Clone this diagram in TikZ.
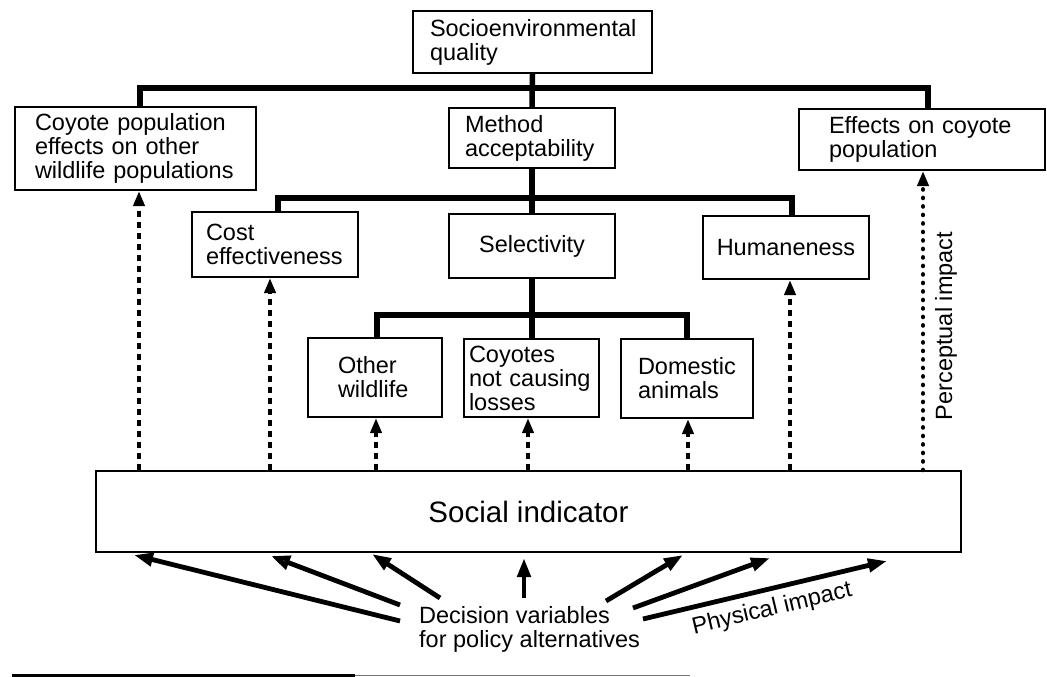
\documentclass[tikz,border=0pt]{standalone}
\usepackage{fontspec}
\setmainfont{Liberation Sans}
\usetikzlibrary{arrows.meta,calc}
\hyphenpenalty=10000
\exhyphenpenalty=10000
\begin{document}
\begin{tikzpicture}[x=1pt,y=-1pt,
  box/.style={draw, line width=2pt, rectangle, inner ysep=0pt, font=\fontsize{23.5}{24}\selectfont},
  lbox/.style={box, align=left},
  bar/.style={line width=5.5pt},
  dasharrow/.style={line width=4.5pt, dash pattern=on 6pt off 5pt, -{Triangle[length=15pt,width=11pt]}},
  dotarrow/.style={line width=4.6pt, line cap=round, dash pattern=on 0.1pt off 8.4pt, -{Triangle[length=15pt,width=11pt]}},
  solidarrow/.style={line width=4.8pt, -{Triangle[length=19pt,width=13pt]}},
  openarrow/.style={line width=4.8pt, -{Triangle[open,length=19pt,width=14pt]}},
  lbl/.style={font=\fontsize{23.5}{24}\selectfont, inner sep=0pt}
]
\useasboundingbox (0,0) rectangle (1047,677);

% boxes
\node[lbox, minimum height=62pt, inner xsep=17pt, text width=205pt] (top) at (532.5,42) {Socioenvironmental\\quality};
\node[lbox, minimum height=83pt, inner xsep=20pt, text width=201pt] (cpe) at (135.5,148.5) {Coyote population\\effects on other\\wildlife populations};
\node[lbox, minimum height=60pt, inner xsep=16pt, text width=134pt] (meth) at (532,138) {Method\\acceptability};
\node[lbox, minimum height=61pt, inner xsep=30pt, text width=186pt] (eff) at (922,139.5) {Effects on coyote\\population};
\node[lbox, minimum height=65pt, inner xsep=14pt, text width=138pt] (cost) at (275,244.5) {Cost\\effectiveness};
\node[box, minimum width=166pt, minimum height=64pt] (sel) at (532,246) {Selectivity};
\node[box, minimum width=166pt, minimum height=63pt] (hum) at (786,247.5) {Humaneness};
\node[lbox, minimum height=79pt, inner xsep=30pt, text width=74pt] (oth) at (375,377.5) {Other\\wildlife};
\node[lbox, minimum height=78pt, inner xsep=5pt, text width=125pt] (cnl) at (531.5,378) {Coyotes\\not causing\\losses};
\node[lbox, minimum height=79pt, inner xsep=17pt, text width=98pt] (dom) at (687,378.5) {Domestic\\animals};
\node[box, minimum width=865pt, minimum height=81pt, font=\fontsize{29.5}{30}\selectfont] (soc) at (528.5,511.5) {Social indicator};
\node[lbl, align=left, anchor=west] (dec) at (419,629) {Decision variables\\for policy alternatives};

% hierarchy bars
\coordinate (b1) at (532,88);
\coordinate (b2) at (532,198);
\coordinate (b3) at (532,315);
\draw[bar] (top.south) -- (meth.north);
\draw[bar] ([xshift=4.5pt]cpe.north) |- (b1) -| ([xshift=6pt]eff.north);
\draw[bar] (meth.south) -- (sel.north);
\draw[bar] ([xshift=3pt]cost.north) |- (b2) -| ([xshift=6pt]hum.north);
\draw[bar] (sel.south) -- (sel.south |- cnl.north);
\draw[bar] ([xshift=2pt]oth.north) |- (b3) -| (dom.north);

% dashed arrows from social indicator
\coordinate (a1) at ([xshift=3.5pt]cpe.south);
\coordinate (a2) at ([xshift=-5pt]cost.south);
\coordinate (a3) at ([xshift=1pt]oth.south);
\coordinate (a4) at ([xshift=-3.5pt]cnl.south);
\coordinate (a5) at ([xshift=1pt]dom.south);
\coordinate (a6) at ([xshift=4pt]hum.south);
\coordinate (a7) at ([xshift=1pt]eff.south);
\draw[dasharrow] (soc.north -| a1) -- (a1);
\draw[dasharrow] (soc.north -| a2) -- (a2);
\draw[dasharrow] (soc.north -| a3) -- (a3);
\draw[dasharrow] (soc.north -| a4) -- (a4);
\draw[dasharrow] (soc.north -| a5) -- (a5);
\draw[dasharrow] (soc.north -| a6) -- (a6);
\draw[dotarrow] (soc.north -| a7) -- (a7);
\node[lbl, rotate=90] (pimp) at (946,326) {Perceptual impact};

% solid arrows from decision variables
\coordinate (s1) at (400,621); \coordinate (t1) at (134,555);
\coordinate (s2) at (400,605); \coordinate (t2) at (271,556);
\coordinate (s3) at (440,598); \coordinate (t3) at (372,554);
\coordinate (s4) at (524,598); \coordinate (t4) at (524,558);
\coordinate (s5) at (606,601); \coordinate (t5) at (683,555);
\coordinate (s6) at (633,608); \coordinate (t6) at (770,558);
\coordinate (s7) at (643,619); \coordinate (t7) at (887,561);
\draw[solidarrow] (s1) -- (t1);
\draw[openarrow] (s2) -- (t2);
\draw[solidarrow] (s3) -- (t3);
\draw[solidarrow] (s4) -- (t4);
\draw[solidarrow] (s5) -- (t5);
\draw[solidarrow] (s6) -- (t6);
\draw[solidarrow] (s7) -- node[lbl, pos=0.51, sloped, below=7pt] (phys) {Physical impact} (t7);

% bottom rule
\coordinate (r0) at (12,675.5);
\coordinate (r1) at (355,675.5);
\coordinate (r2) at (690,675.5);
\draw[line width=2.2pt] (r0) -- (r1);
\draw[line width=1.2pt, black!55] (r1) -- (r2);
\end{tikzpicture}
\end{document}
